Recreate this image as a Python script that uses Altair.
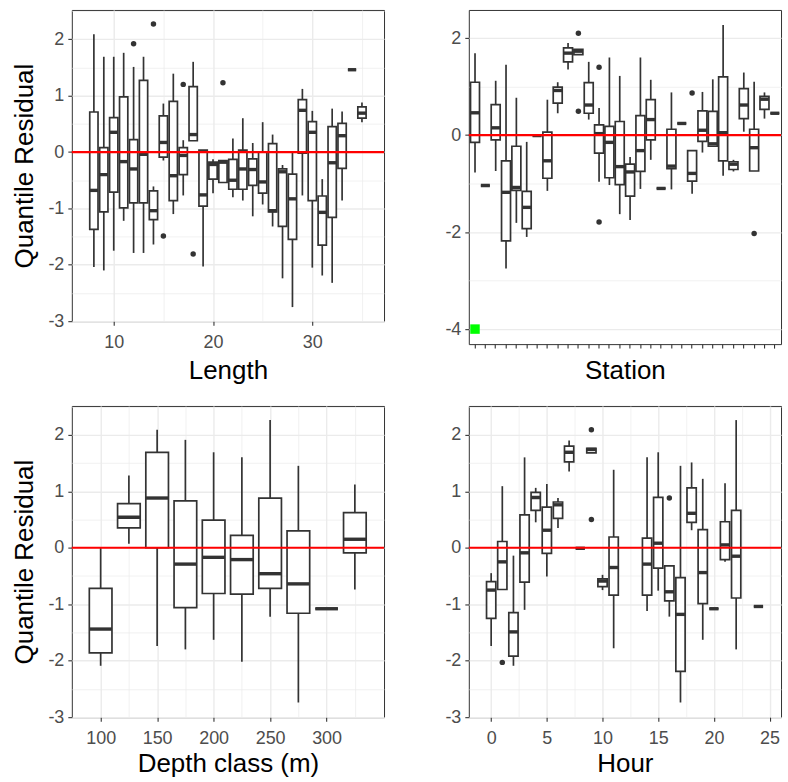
import altair as alt
import pandas as pd

# ---------------- data (box statistics) ----------------
# Panel 1: Length
length_pos = list(range(8, 36))
length_lw  = [-2.04,-2.10,-1.75,-1.22,-1.79,-1.79,-1.64,-0.15,-1.10,-0.77,0.20,-2.03,-0.73,-0.54,-0.80,-0.86,-1.14,-0.93,-1.32,-2.24,-2.75,-0.77,-2.05,-2.19,-2.32,-0.86,1.46,0.53]
length_q1  = [-1.37,-1.06,-0.71,-0.99,-0.90,-0.90,-1.20,-0.09,-0.86,-0.40,0.20,-0.96,-0.48,-0.54,-0.66,-0.66,-0.59,-0.73,-1.06,-1.32,-1.55,-0.02,-0.86,-1.65,-1.16,-0.29,1.46,0.60]
length_med = [-0.68,-0.40,0.35,-0.17,-0.30,-0.04,-1.04,0.17,-0.42,-0.06,0.31,-0.76,-0.22,-0.18,-0.50,-0.30,-0.31,-0.53,-1.04,-0.35,-0.83,0.74,0.35,-1.07,-0.19,0.29,1.46,0.69]
length_q3  = [0.71,0.08,0.61,0.98,0.22,1.27,-0.69,0.64,0.90,0.08,1.16,0.035,-0.18,-0.15,-0.13,0.035,-0.12,0.0,0.15,-0.30,-0.39,0.93,0.54,-0.78,0.45,0.51,1.46,0.80]
length_uw  = [2.09,1.69,1.69,1.76,1.51,1.69,-0.61,0.86,1.39,0.21,1.60,0.035,-0.13,-0.14,0.24,0.60,0.16,0.53,0.31,-0.23,0.0,1.12,0.73,-0.48,0.77,0.72,1.46,0.88]
length_out_pos = [12, 14, 15, 17, 18, 21]
length_out_val = [1.92, 2.27, -1.49, 1.20, -1.81, 1.23]

# Panel 2: Station
stations = ["S01","S02","S03","S04","S05","S06","S07","S08","S09","S10",
            "S11","S12","S13","S14","S15","S16","S17","S18","S19","S20",
            "S21","S22","S23","S24","S25","S26","S27","S28","S29","S30"]
station_lw  = [-0.77,-1.04,-0.74,-2.75,-1.81,-2.10,-0.01,-1.15,0.45,1.35,1.66,0.32,-0.96,-1.03,-1.63,-1.75,-1.11,-0.51,-1.10,-1.12,0.24,-1.21,-0.36,-0.23,-0.84,-0.75,0.07,-0.74,0.34,0.45]
station_q1  = [-0.15,-1.04,-0.10,-2.18,-1.14,-1.93,-0.01,-0.89,0.66,1.51,1.66,0.45,-0.37,-0.88,-1.02,-1.26,-0.75,-0.10,-1.10,-0.69,0.24,-0.95,-0.13,-0.23,-0.53,-0.71,0.34,-0.74,0.53,0.45]
station_med = [0.46,-1.04,0.15,-1.18,-1.08,-1.49,-0.01,-0.53,0.92,1.69,1.73,0.62,0.03,-0.15,-0.65,-0.76,-0.32,0.32,-1.10,-0.64,0.24,-0.79,0.10,-0.18,0.05,-0.60,0.62,-0.26,0.74,0.45]
station_q3  = [1.09,-1.04,0.63,-0.53,-0.23,-1.16,-0.01,0.06,0.99,1.80,1.77,1.08,0.21,0.18,0.28,-0.60,0.40,0.73,-1.10,0.12,0.24,-0.32,0.50,0.49,1.20,-0.55,0.96,0.12,0.80,0.45]
station_uw  = [1.69,-1.04,1.12,1.45,0.77,-0.14,-0.01,0.73,1.09,1.90,1.77,1.51,0.56,1.60,1.22,-0.45,1.60,1.14,-1.10,0.88,0.24,-0.32,0.89,1.15,2.27,-0.51,1.29,1.10,0.88,0.45]
station_out_pos = ["S11","S11","S13","S13","S22","S28"]
station_out_val = [2.10, 0.49, 1.40, -1.79, 0.87, -2.03]
green_pos = ["S01"]
green_val = [-4.0]

# Panel 3: Depth class
depth_pos = [100,125,150,175,200,225,250,275,300,325]
depth_lw  = [-2.09,0.07,-1.74,-1.80,-1.63,-2.02,-1.22,-2.74,-1.08,-0.74]
depth_q1  = [-1.86,0.35,0.0,-1.06,-0.81,-0.82,-0.72,-1.16,-1.08,-0.09]
depth_med = [-1.44,0.54,0.88,-0.29,-0.17,-0.21,-0.46,-0.64,-1.08,0.15]
depth_q3  = [-0.72,0.78,1.69,0.83,0.49,0.22,0.88,0.30,-1.08,0.62]
depth_uw  = [0.0,1.28,2.09,1.91,1.69,1.60,2.26,1.45,-1.08,1.12]

# Panel 4: Hour
hour_pos = [0,1,2,3,4,5,6,7,8,9,10,11,14,15,16,17,18,19,20,21,22,24]
hour_lw  = [-1.74,-0.74,-2.09,-1.10,0.45,-0.51,0.35,1.35,-0.01,1.68,-0.75,-1.78,-1.12,-0.76,-1.22,-2.74,0.31,-1.63,-1.08,-0.25,-1.80,-1.04]
hour_q1  = [-1.25,-0.74,-1.92,-0.61,0.66,-0.10,0.52,1.52,-0.01,1.68,-0.69,-0.84,-0.84,-0.36,-0.94,-2.19,0.45,-0.99,-1.08,-0.21,-0.89,-1.04]
hour_med = [-0.75,-0.25,-1.49,-0.09,0.89,0.31,0.76,1.69,-0.01,1.74,-0.59,-0.35,-0.29,0.08,-0.78,-1.18,0.61,-0.44,-1.08,0.05,-0.15,-1.04]
hour_q3  = [-0.60,0.11,-1.15,0.58,0.98,0.72,0.81,1.80,-0.01,1.76,-0.55,0.19,0.17,0.89,-0.32,-0.53,1.06,0.32,-1.08,0.46,0.66,-1.04]
hour_uw  = [-0.45,1.09,-0.14,1.60,1.06,1.13,0.88,1.90,-0.01,1.76,-0.48,1.38,1.60,1.69,-0.32,1.45,1.51,1.22,-1.08,1.14,2.26,-1.04]
hour_out_pos = [1, 9, 9, 16]
hour_out_val = [-2.03, 2.09, 0.50, 0.88]

reference_line = [0]

# ---------------- styling ----------------
FONT = "Liberation Sans"
INK = "#333333"
GRID = "#EBEBEB"
W = 313
H = 312


def box_df(pos, lw, q1, med, q3, uw):
    return pd.DataFrame({"pos": pos, "lw": lw, "q1": q1, "med": med, "q3": q3, "uw": uw})


def cond(test, yes, no):
    return {"condition": {"test": test, "value": yes}, "value": no}


def qaxis(values, major_test, title, title_pad, label_pad, orient):
    kw = dict(
        values=values,
        tickCount=len(values) + 2,
        title=title,
        labelExpr=f"({major_test}) ? ('' + datum.value) : ''",
        labelFontSize=cond(major_test, 18, 0),
        tickOpacity=cond(major_test, 1, 0),
        gridWidth=cond(major_test, 1.4, 0.7),
        labelPadding=label_pad,
        labelOverlap=False,
        labelFlush=False,
        orient=orient,
    )
    if title is not None:
        kw["titlePadding"] = title_pad
    return alt.Axis(**kw)


def panel(df, xfield, xscale, xaxis, yscale, yaxis, box_w, out_df=None, height=H, extra=None):
    base = alt.Chart(df)
    x = alt.X(xfield, scale=xscale, axis=xaxis)
    whisk = base.mark_rule(color=INK, strokeWidth=1.7).encode(
        x=x, y=alt.Y("lw:Q", scale=yscale, axis=yaxis), y2="uw:Q")
    box = base.mark_bar(size=box_w, fill="white", stroke=INK, strokeWidth=1.7).encode(
        x=x, y="q1:Q", y2="q3:Q")
    med = base.mark_tick(orient="horizontal", size=box_w, thickness=3.4, color=INK, opacity=1).encode(
        x=x, y="med:Q")
    layers = [whisk, box, med]
    if out_df is not None:
        layers.append(alt.Chart(out_df).mark_circle(size=30, color=INK, opacity=1).encode(
            x=x, y="val:Q"))
    layers.append(alt.Chart(pd.DataFrame({"ref": reference_line})).mark_rule(
        color="#FF0000", strokeWidth=2.2).encode(y="ref:Q"))
    if extra is not None:
        layers.append(extra)
    return alt.layer(*layers).properties(width=W, height=height)


y_vals = [-3, -2.5, -2, -1.5, -1, -0.5, 0, 0.5, 1, 1.5, 2, 2.5]
y_test = "datum.value % 1 === 0"

# Panel 1
p1 = panel(
    box_df(length_pos, length_lw, length_q1, length_med, length_q3, length_uw),
    "pos:Q",
    alt.Scale(domain=[6.28, 36.72], nice=False, zero=False),
    qaxis([10, 15, 20, 25, 30, 35], "datum.value % 10 === 0", "Length", 6, 8, "bottom"),
    alt.Scale(domain=[-3.0, 2.52], nice=False, zero=False),
    qaxis(y_vals, y_test, "Quantile Residual", 10, 4, "left"),
    8.3,
    pd.DataFrame({"pos": length_out_pos, "val": length_out_val}),
)

# Panel 2
green = alt.Chart(pd.DataFrame({"pos": green_pos, "val": green_val})).mark_square(
    size=90, color="#00FF00", opacity=1).encode(x=alt.X("pos:N", sort=stations), y="val:Q")
p2 = panel(
    box_df(stations, station_lw, station_q1, station_med, station_q3, station_uw),
    "pos:N",
    alt.Scale(domain=stations, paddingInner=0.13, paddingOuter=0.165),
    alt.Axis(title="Station", labels=False, titlePadding=9, gridWidth=1.4),
    alt.Scale(domain=[-4.31, 2.58], nice=False, zero=False),
    qaxis([-4, -3, -2, -1, 0, 1, 2], "datum.value % 2 === 0", None, 0, 4, "left"),
    9,
    pd.DataFrame({"pos": station_out_pos, "val": station_out_val}),
    height=335,
    extra=green,
)

# Panel 3
p3 = panel(
    box_df(depth_pos, depth_lw, depth_q1, depth_med, depth_q3, depth_uw),
    "pos:Q",
    alt.Scale(domain=[78.9, 346.4], nice=False, zero=False),
    qaxis([100, 125, 150, 175, 200, 225, 250, 275, 300, 325], "datum.value % 50 === 0",
          "Depth class (m)", 3.5, 8, "bottom"),
    alt.Scale(domain=[-3.0, 2.51], nice=False, zero=False),
    qaxis(y_vals, y_test, "Quantile Residual", 10, 4, "left"),
    22.7,
)

# Panel 4
p4 = panel(
    box_df(hour_pos, hour_lw, hour_q1, hour_med, hour_q3, hour_uw),
    "pos:Q",
    alt.Scale(domain=[-1.56, 25.58], nice=False, zero=False),
    qaxis([0, 2.5, 5, 7.5, 10, 12.5, 15, 17.5, 20, 22.5, 25], "datum.value % 5 === 0",
          "Hour", 3.5, 8, "bottom"),
    alt.Scale(domain=[-3.0, 2.51], nice=False, zero=False),
    qaxis(y_vals, y_test, None, 0, 4, "left"),
    9.3,
    pd.DataFrame({"pos": hour_out_pos, "val": hour_out_val}),
)

chart = alt.concat(
    p1, p2, p3, p4, columns=2, spacing={"row": 62, "column": 85}, bounds="flush"
).properties(
    padding={"left": 11, "top": 8, "right": 5, "bottom": 5},
    background="white",
).configure_view(
    stroke=INK, strokeWidth=1, fill="white"
).configure_axis(
    labelFont=FONT, labelColor="#4D4D4D",
    titleFont=FONT, titleFontSize=26, titleFontWeight="normal", titleColor="black",
    tickColor=INK, tickSize=4, tickWidth=1.1, domain=False,
    gridColor=GRID,
)

chart.save("out.html", embed_options={"renderer": "svg", "actions": False})
